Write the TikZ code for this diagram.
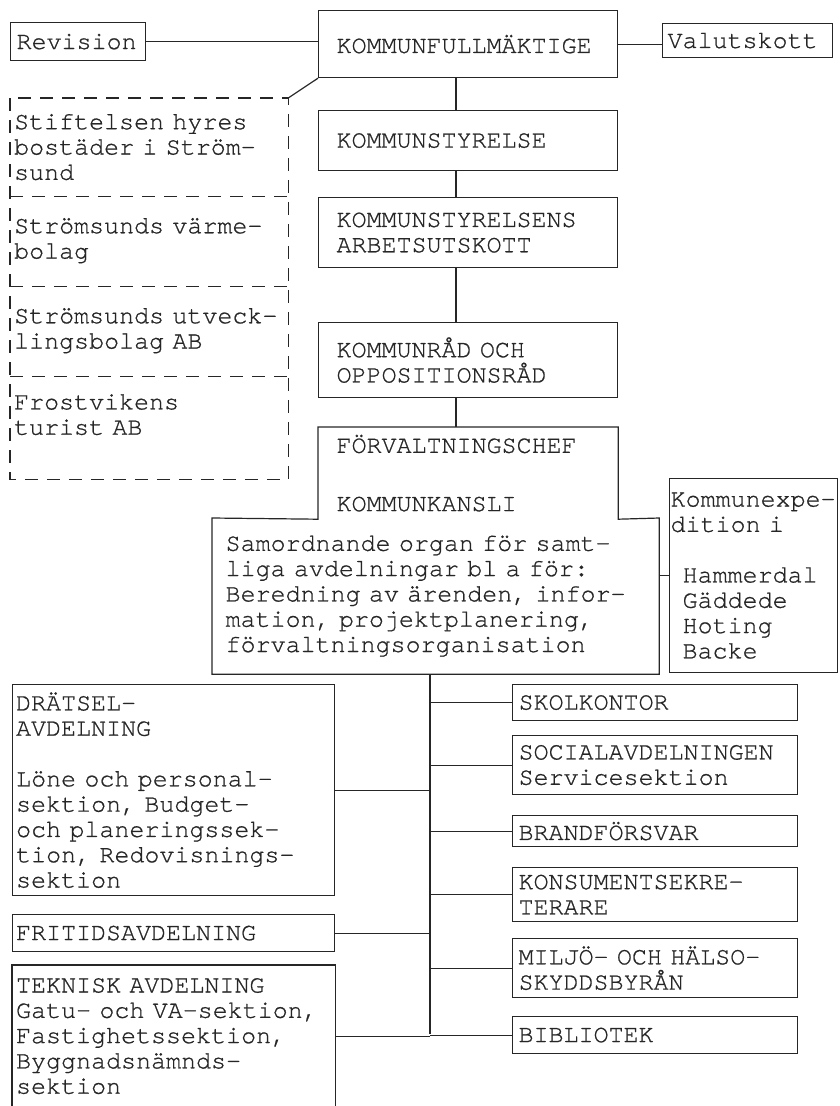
\documentclass[tikz,border=0pt]{standalone}
\usepackage{fontspec}
\newfontfamily\orgtt{texgyrecursor-regular.otf}[FakeBold=0.8]
\newcommand{\orgfont}{\orgtt\fontsize{25}{25.3}\selectfont}

\begin{document}
\begin{tikzpicture}[x=1pt, y=-1pt, line width=1.2pt, color=black!85,
    box/.style={draw, anchor=north west, align=left, inner ysep=0pt, inner xsep=6pt, font=\orgfont},
    mid/.style={box, inner xsep=18pt, text width=263pt},
    unit/.style={box, text width=273pt},
    dept/.style={box, inner xsep=3.5pt, text width=315pt},
    bolag/.style={box, draw=none, inner xsep=3.5pt, text width=270pt},
    dashline/.style={dash pattern=on 13pt off 9pt}]
  \useasboundingbox (0,0) rectangle (839,1106);

  % Fullmaktige
  \node[box, text width=123pt, minimum height=38] (rev) at (10,22) {Revision};
  \node[mid, minimum height=67] (kf) at (318,10) {KOMMUNFULLMÄKTIGE};
  \node[box, inner xsep=5pt, text width=160pt, minimum height=34] (val) at (662,23) {Valutskott};

  % Bolag
  \node[bolag, minimum height=97] (sec1) at (10,98) {Stiftelsen hyres\\bostäder i Ström-\\sund};
  \node[bolag, minimum height=90] (sec2) at (10,195) {Strömsunds värme-\\bolag};
  \node[bolag, minimum height=90] (sec3) at (10,285) {Strömsunds utveck-\\lingsbolag AB};
  \node[bolag, minimum height=103] (sec4) at (10,375) {Frostvikens\\turist AB\\\mbox{}};
  \draw[dashline] (sec1.north west) rectangle (sec4.south east);
  \foreach \s in {sec1,sec2,sec3}
    \draw[dashline] (\s.south west) -- (\s.south east);

  % Styrelse
  \node[mid, minimum height=60] (ks) at (318,110) {KOMMUNSTYRELSE};
  \node[mid, minimum height=70] (ksau) at (318,197) {KOMMUNSTYRELSENS\\ARBETSUTSKOTT};
  \node[mid, minimum height=75] (kror) at (318,322) {KOMMUNRÅD OCH\\OPPOSITIONSRÅD};

  % Kommunkansli
  \node[mid, draw=none, minimum height=91] (kchef) at (318,427) {FÖRVALTNINGSCHEF\\[33pt]KOMMUNKANSLI};
  \node[box, draw=none, inner xsep=13pt, text width=420pt, minimum height=155] (kbot) at (212,518)
    {Samordnande organ för samt-\\liga avdelningar bl a för:\\Beredning av ärenden, infor-\\mation, projektplanering,\\förvaltningsorganisation};
  \draw (kchef.north west) -- (kchef.north east) -- (kchef.south east) -- (kbot.north east)
    -- (kbot.south east) -- (kbot.south west) -- (kbot.north west) -- (kchef.south west) -- cycle;
  \node[box, inner xsep=1pt, text width=166pt, minimum height=194] (kexp) at (669,478)
    {Kommunexpe-\\dition i\\[25.3pt]\hspace*{12pt}Hammerdal\\\hspace*{12pt}Gäddede\\\hspace*{12pt}Hoting\\\hspace*{12pt}Backe};

  % Avdelningar
  \node[unit, minimum height=36] (skol) at (512,684) {SKOLKONTOR};
  \node[unit, minimum height=59] (soc) at (512,735) {SOCIALAVDELNINGEN\\Servicesektion};
  \node[unit, minimum height=31] (brand) at (512,815) {BRANDFÖRSVAR};
  \node[unit, minimum height=54] (kons) at (512,867) {KONSUMENTSEKRE-\\TERARE};
  \node[unit, minimum height=59] (milj) at (512,938) {MILJÖ- OCH HÄLSO-\\SKYDDSBYRÅN};
  \node[unit, minimum height=37] (bib) at (512,1016) {BIBLIOTEK};

  \node[dept, minimum height=211] (drat) at (12,684)
    {DRÄTSEL-\\AVDELNING\\[25.3pt]Löne och personal-\\sektion, Budget-\\och planeringssek-\\tion, Redovisnings-\\sektion};
  \node[dept, minimum height=37] (frit) at (12,914) {FRITIDSAVDELNING};
  \node[dept, draw=none, minimum height=141] (tek) at (12,965)
    {TEKNISK AVDELNING\\Gatu- och VA-sektion,\\Fastighetssektion,\\Byggnadsnämnds-\\sektion};
  \draw (tek.south west) |- (tek.north east) -- (tek.south east);

  % Linjer
  \coordinate (axis) at (456,0);
  \coordinate (trunk) at (430,1034);
  \draw (rev.east) -- (rev.east -| kf.west);
  \draw (kf.east) -- (kf.east -| val.west);
  \draw (kf.south west) -- (sec1.north east);
  \draw (kf.south -| axis) -- (ks.north -| axis);
  \draw (ks.south -| axis) -- (ksau.north -| axis);
  \draw (ksau.south -| axis) -- (kror.north -| axis);
  \draw (kror.south -| axis) -- (kchef.north -| axis);
  \draw (kbot.east |- kexp.west) -- (kexp.west);
  \draw (kbot.south -| trunk) -- (trunk);
  \foreach \n in {skol,soc,brand,kons,milj,bib}
    \draw (trunk |- \n.west) -- (\n.west);
  \foreach \n in {drat,frit,tek}
    \draw (\n.east) -- (\n.east -| trunk);
\end{tikzpicture}
\end{document}
